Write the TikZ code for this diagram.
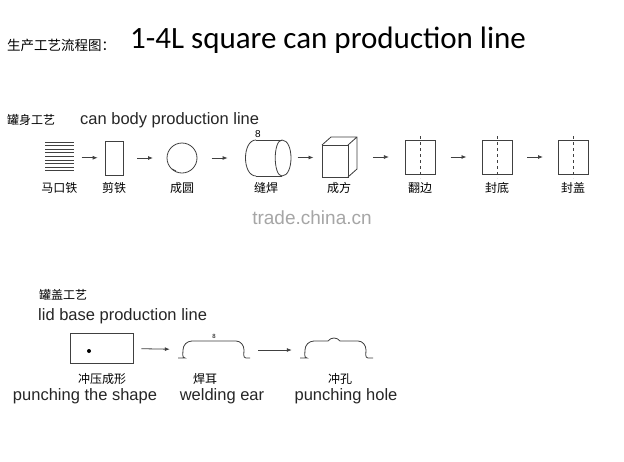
\documentclass[tikz,border=0pt]{standalone}
\usepackage{fontspec}
\setmainfont{Liberation Sans}
\newfontfamily\cjk{Noto Sans CJK SC}
\newfontfamily\titlefont{Carlito}
\usetikzlibrary{arrows.meta,calc}
\tikzset{
  ln/.style={line width=0.8pt, black!75},
  arr/.style={ln, -{Latex[length=5pt,width=4pt]}},
  zh/.style={font=\cjk\fontsize{12}{12}\selectfont, inner sep=1pt},
  en/.style={font=\fontsize{16.5}{16.5}\selectfont, inner sep=1pt, text=black!85},
}
\begin{document}
\begin{tikzpicture}[x=1pt,y=-1pt]
\useasboundingbox[fill=white] (0,0) rectangle (624,461);
% title
\node[zh, anchor=west, font=\cjk\fontsize{13.5}{13.5}\selectfont] (tz) at (6,45) {生产工艺流程图：};
\node[anchor=west, font=\titlefont\fontsize{31}{31}\selectfont, inner sep=0] (te) at (130,40) {1-4L square can production line};
% body header
\node[zh, anchor=west] (bz) at (6,120) {罐身工艺};
\node[en, anchor=west] (be) at (79,120) {can body production line};
% step 1: stack
\foreach \i in {0,...,8} \draw[ln] (45,{142+3.6*\i}) -- (74,{142+3.6*\i});
\node[inner sep=0, minimum width=30pt, minimum height=32pt] (s1) at (59.5,157.5) {};
\node[draw, ln, minimum width=18pt, minimum height=34pt, inner sep=0] (s2) at (114,158) {};
\node[draw, ln, circle, minimum size=30pt, inner sep=0] (s3) at (182,158) {};
\draw[ln] (172,169) -- (176,171);
% cylinder
\node[inner sep=0, minimum width=48pt, minimum height=38pt] (s4) at (266,158) {};
\draw[ln] (256,140) -- (282,140) (256,176) -- (282,176);
\draw[ln] (256,140) .. controls (242,140) and (242,176) .. (256,176);
\draw[ln] (282,140) .. controls (294,140) and (294,176) .. (282,176);
\draw[ln] (282,140) .. controls (273,140) and (273,176) .. (282,176);
\node[font=\fontsize{10}{10}\selectfont, inner sep=0] (w) at (258,134) {8};
% cube
\node[inner sep=0, minimum width=36pt, minimum height=40pt] (s5) at (339,157) {};
\draw[ln] (322,145) rectangle (348,177);
\draw[ln] (322,145) -- (331,137) -- (357,137) -- (357,169) -- (348,177) (348,145) -- (357,137);
% rects with dashed middle
\foreach \n/\cx in {s6/420, s7/497, s8/573}{
  \node[draw, ln, minimum width=30pt, minimum height=34pt, inner sep=0] (\n) at (\cx,157) {};
  \draw[ln, dashed, line width=0.5pt] (\cx,136) -- (\cx,178);
}
% arrows
\foreach \a/\b in {s1/s2, s2/s3, s3/s4, s4/s5, s5/s6, s6/s7, s7/s8}
  \draw[arr] ($($(\a.east)!.5!(\b.west)$)+(-8,0)$) -- ($($(\a.east)!.5!(\b.west)$)+(8,0)$);
% labels
\foreach \n/\t in {s1/马口铁, s2/剪铁, s3/成圆, s4/缝焊, s5/成方, s6/翻边, s7/封底, s8/封盖}
  \node[zh] at (\n.center |- 0,188) {\t};
% watermark
\node[font=\fontsize{19}{19}\selectfont, text=black!35] (wm) at (312,218) {trade.china.cn};
% lid
\node[zh, anchor=west] (lz) at (38,295) {罐盖工艺};
\node[en, anchor=west] (le) at (37,316) {lid base production line};
\node[draw, ln, minimum width=63pt, minimum height=30pt, inner sep=0] (l1) at (101.5,348) {};
\fill (89,351) circle (2);
\node[inner sep=0, minimum width=72pt, minimum height=20pt] (l2) at (214,350) {};
\draw[ln] (178,358) -- (185,358) to[out=180,in=270] (183,350) to[out=90,in=180] (192,341) -- (236,341) to[out=0,in=90] (244,350) to[out=270,in=180] (246,358) -- (250,358);
\node[font=\fontsize{6}{6}\selectfont, inner sep=0] at (214,336) {8};
\node[inner sep=0, minimum width=72pt, minimum height=20pt] (l3) at (336,350) {};
\draw[ln] (300,358) -- (307,358) to[out=180,in=270] (305,350) to[out=90,in=180] (314,341) -- (328,341) .. controls (331,337) and (337,337) .. (340,341) -- (358,341) to[out=0,in=90] (366,350) to[out=270,in=180] (368,358) -- (373,358);
\draw[arr, shorten <=8pt, shorten >=8pt] (l1) -- (l2);
\draw[arr, shorten <=8pt, shorten >=8pt] (l2) -- (l3);
\node[zh] at (102,379) {冲压成形};
\node[en] at (85,396) {punching the shape};
\node[zh] at (205,379) {焊耳};
\node[en] at (222,396) {welding ear};
\node[zh] at (340,379) {冲孔};
\node[en] at (346,396) {punching hole};
\end{tikzpicture}
\end{document}
